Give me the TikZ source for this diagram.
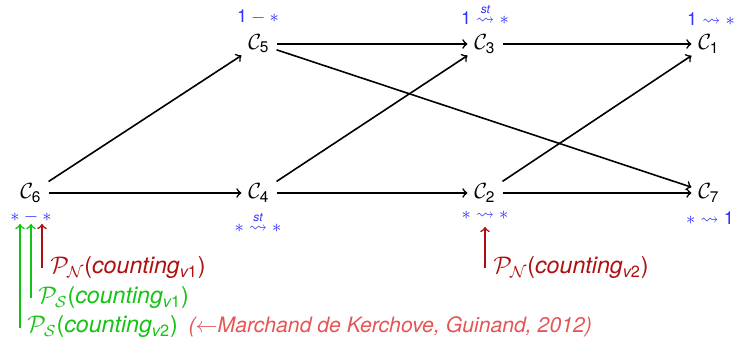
\documentclass[tikz,border=0pt]{standalone}
\usepackage{amsmath,amssymb}
\usepackage{fontspec}
\setmainfont{TeX Gyre Heros}
\definecolor{lblblue}{RGB}{50,50,255}
\definecolor{pgreen}{RGB}{20,195,20}
\definecolor{pdred}{RGB}{175,15,15}
\definecolor{plred}{RGB}{228,85,85}
\newcommand\Cn[1]{$\mathcal{C}_{\text{#1}}$}
\newcommand\cnt[1]{(\textit{counting}$_{\textit{v}\text{#1}}$)}
\newcommand\stsq{\overset{\textit{st}}{\rightsquigarrow}}
\begin{document}
\begin{tikzpicture}[x=0.5pt,y=-0.5pt,
  cnode/.style={font=\fontsize{11}{13}\selectfont, inner sep=3.3pt},
  lbl/.style={font=\fontsize{9}{10}\selectfont, text=lblblue, inner sep=0pt},
  edge/.style={->, thick, black},
  ptext/.style={font=\fontsize{11.6}{13}\selectfont, anchor=west, inner sep=0pt},
  parrow/.style={->, thick}]
\useasboundingbox (0,0) rectangle (739,340);
% main nodes
\node[cnode] (C6) at (31,193) {\Cn{6}};
\node[cnode] (C5) at (259,44) {\Cn{5}};
\node[cnode] (C3) at (485,44) {\Cn{3}};
\node[cnode] (C1) at (709,44) {\Cn{1}};
\node[cnode] (C4) at (259,193) {\Cn{4}};
\node[cnode] (C2) at (485,193) {\Cn{2}};
\node[cnode] (C7) at (709,193) {\Cn{7}};
% edges
\draw[edge] (C6) -- (C5);
\draw[edge] (C6) -- (C4);
\draw[edge] (C5) -- (C3);
\draw[edge] (C5) -- (C7);
\draw[edge] (C4) -- (C3);
\draw[edge] (C4) -- (C2);
\draw[edge] (C3) -- (C1);
\draw[edge] (C2) -- (C1);
\draw[edge] (C2) -- (C7);
% blue labels
\node[lbl] (L5) at (258,17) {$\text{1} - *$};
\node[lbl] (L3) at (485,14) {$\text{1} \stsq *$};
\node[lbl] (L1) at (711,19) {$\text{1} \rightsquigarrow *$};
\node[lbl] (L6) at (31,217) {$* - *$};
\node[lbl] (L4) at (258,222) {$* \stsq *$};
\node[lbl] (L2) at (485,215) {$* \rightsquigarrow *$};
\node[lbl] (L7) at (710,218) {$* \rightsquigarrow \text{1}$};
% annotation texts
\node[ptext, text=pdred] (PN1) at (50,268) {$\mathcal{P}_{\mathcal{N}}$\cnt{1}};
\node[ptext, text=pgreen] (PS1) at (38,298) {$\mathcal{P}_{\mathcal{S}}$\cnt{1}};
\node[ptext, text=pgreen] (PS2) at (27,327) {$\mathcal{P}_{\mathcal{S}}$\cnt{2}};
\node[ptext, text=plred, anchor=west, font=\fontsize{10.6}{13}\selectfont] (MK) at ([xshift=5pt]PS2.east) {\textit{($\leftarrow$Marchand de Kerchove, Guinand, 2012)}};
\node[ptext, text=pdred] (PN2) at (493,268) {$\mathcal{P}_{\mathcal{N}}$\cnt{2}};
% arrow tails and tips
\coordinate (tR) at (42,268);
\coordinate (hR) at (42,224);
\coordinate (tG1) at (31,298);
\coordinate (hG1) at (31,224);
\coordinate (tG2) at (20,328);
\coordinate (hG2) at (20,224);
\coordinate (tR2) at (485,268);
\coordinate (hR2) at (485,227);
\draw[parrow, pdred] (tR) -- (hR);
\draw[parrow, pgreen] (tG1) -- (hG1);
\draw[parrow, pgreen] (tG2) -- (hG2);
\draw[parrow, pdred] (tR2) -- (hR2);
\end{tikzpicture}
\end{document}
